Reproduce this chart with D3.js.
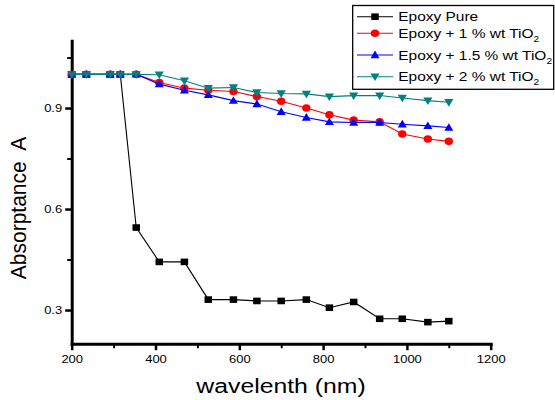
<!DOCTYPE html>
<html><head><meta charset="utf-8">
<script src="https://cdn.jsdelivr.net/npm/d3@7"></script>
<style>body{margin:0;background:#fff}svg{display:block;background:#fff}text{font-family:"Liberation Sans",Arial,sans-serif;fill:#000}</style>
</head><body><svg id="c" width="555" height="400"></svg>
<script>
const wavelengths = [200, 235, 292, 316, 354, 409, 469, 526, 586, 642, 700, 760, 815, 873, 935, 989, 1050, 1100];
const epoxyPure   = [1.0, 1.0, 1.0, 1.0, 0.545, 0.443, 0.443, 0.331, 0.331, 0.327, 0.327, 0.331, 0.307, 0.324, 0.274, 0.274, 0.264, 0.267];
const epoxy1      = [1.0, 1.0, 1.0, 1.0, 1.0, 0.976, 0.959, 0.953, 0.949, 0.934, 0.920, 0.900, 0.880, 0.864, 0.859, 0.823, 0.808, 0.801];
const epoxy15     = [1.0, 1.0, 1.0, 1.0, 1.0, 0.971, 0.953, 0.939, 0.922, 0.912, 0.889, 0.872, 0.859, 0.857, 0.857, 0.852, 0.847, 0.842];
const epoxy2      = [1.0, 1.0, 1.0, 1.0, 1.0, 0.999, 0.981, 0.959, 0.961, 0.946, 0.943, 0.942, 0.934, 0.937, 0.937, 0.930, 0.922, 0.917];
const seriesLabels = ["Epoxy Pure", "Epoxy + 1 % wt TiO", "Epoxy + 1.5 % wt TiO", "Epoxy + 2 % wt TiO"];
const seriesSubs   = ["", "2", "2", "2"];
const seriesColors = ["#000000", "#ff0000", "#0000ff", "#008080"];
const seriesMarkers = ["square", "circle", "triUp", "triDown"];
const xTickValues = [200, 400, 600, 800, 1000, 1200];
const xMinorValues = [300, 500, 700, 900, 1100];
const yTickValues = [0.3, 0.6, 0.9];
const yMinorValues = [0.45, 0.75, 1.05];
const xTitle = "wavelenth (nm)";
const yTitle = "Absorptance  A";

const seriesValues = [epoxyPure, epoxy1, epoxy15, epoxy2];
const SX = 1.18;
const svg = d3.select("#c");
const x = d3.scaleLinear().domain([200, 1200]).range([71.7, 490.7]);
const y = d3.scaleLinear().domain([0.2, 1.1]).range([343.7, 40.7]);

function stretchText(sel, sx) {
  sel.selectAll("text").each(function () {
    const t = d3.select(this);
    const xx = +t.attr("x") || 0, yy = +t.attr("y") || 0;
    t.attr("transform", `translate(${xx},${yy}) scale(${sx},1)`).attr("x", 0).attr("y", 0);
  });
}

// minor ticks
svg.append("g").attr("transform", "translate(0,343.7)")
  .call(d3.axisBottom(x).tickValues(xMinorValues).tickSize(4.5).tickSizeOuter(0).tickFormat(""))
  .call(g => g.select(".domain").remove())
  .call(g => g.selectAll("line").attr("stroke", "#000").attr("stroke-width", 2));
svg.append("g").attr("transform", "translate(71.7,0)")
  .call(d3.axisLeft(y).tickValues(yMinorValues).tickSize(4.5).tickSizeOuter(0).tickFormat(""))
  .call(g => g.select(".domain").remove())
  .call(g => g.selectAll("line").attr("stroke", "#000").attr("stroke-width", 2));

// major axes
const gx = svg.append("g").attr("transform", "translate(0,343.7)")
  .call(d3.axisBottom(x).tickValues(xTickValues).tickSize(6.5).tickPadding(5).tickSizeOuter(0).tickFormat(d3.format("d")));
gx.select(".domain").attr("stroke", "#000").attr("stroke-width", 3).attr("stroke-linecap", "square");
gx.selectAll("line").attr("stroke", "#000").attr("stroke-width", 2.5);
gx.selectAll("text").attr("font-size", 11).attr("font-family", '"Liberation Sans",Arial,sans-serif');
stretchText(gx, SX);

const gy = svg.append("g").attr("transform", "translate(71.7,0)")
  .call(d3.axisLeft(y).tickValues(yTickValues).tickSize(6.5).tickPadding(3).tickSizeOuter(0).tickFormat(d3.format(".1f")));
gy.select(".domain").attr("stroke", "#000").attr("stroke-width", 3).attr("stroke-linecap", "square");
gy.selectAll("line").attr("stroke", "#000").attr("stroke-width", 2.5);
gy.selectAll("text").attr("font-size", 11).attr("font-family", '"Liberation Sans",Arial,sans-serif');
stretchText(gy, SX);

// markers
function marker(g, type, color) {
  if (type === "square") g.append("rect").attr("x", -3.75).attr("y", -3.3).attr("width", 7.5).attr("height", 6.6).attr("fill", color);
  else if (type === "circle") g.append("ellipse").attr("rx", 4.2).attr("ry", 3.8).attr("fill", color);
  else if (type === "triUp") g.append("path").attr("d", "M0,-4.4L4.5,3.2L-4.5,3.2Z").attr("fill", color);
  else g.append("path").attr("d", "M-4.6,-3.2L4.6,-3.2L0,4.4Z").attr("fill", color);
}

const line = d3.line().x(d => x(d[0])).y(d => y(d[1]));
seriesValues.forEach((vals, i) => {
  const pts = wavelengths.map((w, j) => [w, vals[j]]);
  const g = svg.append("g");
  g.append("path").datum(pts).attr("d", line).attr("fill", "none").attr("stroke", seriesColors[i]).attr("stroke-width", 1.1);
  g.selectAll("g.m").data(pts).enter().append("g").attr("class", "m")
    .attr("transform", d => `translate(${x(d[0])},${y(d[1])})`)
    .each(function () { marker(d3.select(this), seriesMarkers[i], seriesColors[i]); });
});

// axis titles
svg.append("text").attr("transform", "translate(281,393) scale(1.18,1)").attr("text-anchor", "middle")
  .attr("font-size", 21).text(xTitle);
svg.append("text").attr("transform", "translate(26,208) scale(1.08,1) rotate(-90)").attr("text-anchor", "middle")
  .attr("font-size", 21).style("white-space", "pre").text(yTitle);

// legend
const legend = svg.append("g");
legend.append("rect").attr("x", 352.7).attr("y", 5.5).attr("width", 201).attr("height", 83.8)
  .attr("fill", "#fff").attr("stroke", "#000").attr("stroke-width", 1.3);
const legendRowY = [16.7, 33.3, 55, 76.7];
seriesLabels.forEach((lab, i) => {
  const ry = legendRowY[i];
  legend.append("line").attr("x1", 357).attr("x2", 393).attr("y1", ry).attr("y2", ry)
    .attr("stroke", seriesColors[i]).attr("stroke-width", 1.1);
  const mg = legend.append("g").attr("transform", `translate(375,${ry})`);
  marker(mg, seriesMarkers[i], seriesColors[i]);
  const t = legend.append("text").attr("transform", `translate(398.3,${ry + 4.5}) scale(1.19,1)`)
    .attr("font-size", 13).text(lab);
  if (seriesSubs[i]) t.append("tspan").attr("font-size", 8.5).attr("dy", 4).text(seriesSubs[i]);
});
</script></body></html>
